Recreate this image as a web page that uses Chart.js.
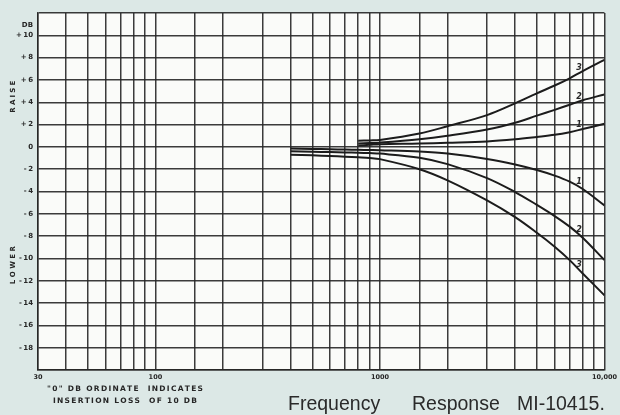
<!DOCTYPE html>
<html>
<head>
<meta charset="utf-8">
<script src="https://cdn.jsdelivr.net/npm/chart.js@4.4.1/dist/chart.umd.min.js"></script>
<style>
  html, body { margin: 0; padding: 0; background: #dce8e6; }
  canvas { display: block; }
</style>
</head>
<body>
<canvas id="chart" width="620" height="415"></canvas>
<script>
// Frequency (Hz) grid lines of the log chart paper
const gridFreqs = [30, 40, 50, 60, 70, 80, 90, 100, 150, 200, 300, 400, 500, 600, 700, 800, 900,
                   1000, 1500, 2000, 3000, 4000, 5000, 6000, 7000, 8000, 9000, 10000];
const freqLabels = { 30: '30', 100: '100', 1000: '1000', 10000: '10,000' };

// Raise (boost) curves, positions 1..3, start at 800 Hz
const raiseFreqs = [800, 900, 1000, 1500, 2000, 3000, 4000, 5000, 6000, 7000, 8000, 10000];
const raise1 = [0.12, 0.18, 0.24, 0.30, 0.37, 0.49, 0.68, 0.89, 1.08, 1.32, 1.60, 2.07];
const raise2 = [0.30, 0.34, 0.38, 0.68, 0.99, 1.55, 2.16, 2.80, 3.32, 3.78, 4.18, 4.70];
const raise3 = [0.55, 0.58, 0.62, 1.20, 1.85, 2.85, 3.90, 4.80, 5.50, 6.15, 6.80, 7.80];

// Lower (cut) curves, positions 1..3, start at 400 Hz
const lowerFreqs = [400, 500, 600, 700, 800, 900, 1000, 1500, 2000, 3000, 4000, 5000, 6000, 7000, 8000, 10000];
const lower1 = [-0.15, -0.18, -0.21, -0.24, -0.26, -0.28, -0.30, -0.42, -0.60, -1.08, -1.58, -2.08, -2.58, -3.12, -3.78, -5.25];
const lower2 = [-0.40, -0.44, -0.47, -0.50, -0.53, -0.56, -0.60, -0.98, -1.55, -2.80, -4.05, -5.20, -6.20, -7.15, -8.15, -10.15];
const lower3 = [-0.70, -0.76, -0.82, -0.88, -0.94, -1.00, -1.10, -2.00, -3.00, -4.80, -6.30, -7.70, -8.95, -10.15, -11.35, -13.30];

const curveNames = ['1', '2', '3', '1', '2', '3'];
const labelFreq = 7700;

const ink = '#262626';
const gridInk = 'rgba(38,38,38,0.9)';

function pts(freqs, vals) { return freqs.map((f, i) => ({ x: f, y: vals[i] })); }

function curve(freqs, vals, name) {
  return {
    label: name,
    data: pts(freqs, vals),
    borderColor: '#1c1c1c',
    borderWidth: 2,
    pointRadius: 0,
    fill: false,
    tension: 0.35
  };
}

const datasets = [
  curve(raiseFreqs, raise1, curveNames[0]),
  curve(raiseFreqs, raise2, curveNames[1]),
  curve(raiseFreqs, raise3, curveNames[2]),
  curve(lowerFreqs, lower1, curveNames[3]),
  curve(lowerFreqs, lower2, curveNames[4]),
  curve(lowerFreqs, lower3, curveNames[5])
];

function spaced(ctx, text, cx, y, width) {
  const chars = [...text];
  const widths = chars.map(c => ctx.measureText(c).width);
  const total = widths.reduce((a, b) => a + b, 0);
  const gap = (width - total) / (chars.length - 1);
  let x = cx - width / 2;
  ctx.textAlign = 'left';
  chars.forEach((c, i) => { ctx.fillText(c, x, y); x += widths[i] + gap; });
}

const paperPlugin = {
  id: 'paper',
  beforeDraw(chart) {
    const { ctx, chartArea: a } = chart;
    ctx.save();
    ctx.fillStyle = '#dce8e6';
    ctx.fillRect(0, 0, chart.width, chart.height);
    ctx.fillStyle = '#fafbf9';
    ctx.fillRect(a.left, a.top, a.right - a.left, a.bottom - a.top);
    ctx.restore();
  },
  afterDraw(chart) {
    const { ctx } = chart;
    const xs = chart.scales.x, ys = chart.scales.y;
    ctx.save();
    ctx.fillStyle = ink;

    // "DB" unit above the +10 tick
    ctx.font = 'bold 7px "DejaVu Sans"';
    ctx.textAlign = 'right';
    ctx.textBaseline = 'middle';
    ctx.fillText('DB', ys.right - 5, ys.getPixelForValue(10) - 10);

    // RAISE / LOWER side captions
    ctx.font = 'bold 7px "DejaVu Sans"';
    ctx.textBaseline = 'middle';
    ctx.save();
    ctx.translate(13, ys.getPixelForValue(4.5));
    ctx.rotate(-Math.PI / 2);
    spaced(ctx, 'RAISE', 0, 0, 32);
    ctx.restore();
    ctx.save();
    ctx.translate(13, ys.getPixelForValue(-10.6));
    ctx.rotate(-Math.PI / 2);
    spaced(ctx, 'LOWER', 0, 0, 38);
    ctx.restore();

    // note under the frequency axis
    ctx.font = 'bold 7.5px "DejaVu Sans"';
    ctx.textBaseline = 'middle';
    spaced(ctx, '"0" DB ORDINATE  INDICATES', 125, 389, 156);
    spaced(ctx, 'INSERTION LOSS  OF 10 DB', 125, 401, 144);

    // title
    ctx.font = '19.5px "Liberation Sans", Arial, sans-serif';
    ctx.fillStyle = '#2a2a2a';
    ctx.textAlign = 'left';
    ctx.textBaseline = 'alphabetic';
    ctx.fillText('Frequency', 288, 410);
    ctx.fillText('Response', 412, 410);
    ctx.fillText('MI-10415.', 517, 410);

    // position numbers written just above each curve
    ctx.font = 'italic bold 8px "DejaVu Sans"';
    ctx.fillStyle = ink;
    ctx.textAlign = 'center';
    ctx.textBaseline = 'bottom';
    const lx = xs.getPixelForValue(labelFreq);
    chart.data.datasets.forEach((ds) => {
      const d = ds.data;
      const k = d.findIndex(p => p.x > labelFreq);
      const p0 = d[k - 1], p1 = d[k];
      const t = (Math.log(labelFreq) - Math.log(p0.x)) / (Math.log(p1.x) - Math.log(p0.x));
      const v = p0.y + (p1.y - p0.y) * t;
      ctx.fillText(ds.label, lx, ys.getPixelForValue(v) - 1);
    });
    ctx.restore();
  }
};

new Chart(document.getElementById('chart'), {
  type: 'line',
  data: { datasets },
  plugins: [paperPlugin],
  options: {
    responsive: false,
    animation: false,
    devicePixelRatio: 1,
    layout: { autoPadding: false, padding: { top: 13, right: 14, left: 0, bottom: 0 } },
    plugins: { legend: { display: false }, tooltip: { enabled: false } },
    scales: {
      x: {
        type: 'logarithmic',
        min: 30,
        max: 10000,
        afterBuildTicks(scale) { scale.ticks = gridFreqs.map(v => ({ value: v })); },
        afterFit(scale) { scale.height = 45; },
        ticks: {
          autoSkip: false,
          maxRotation: 0,
          padding: 3,
          color: ink,
          font: { family: 'DejaVu Sans', size: 6.5, weight: 'bold' },
          callback: v => freqLabels[v] || ''
        },
        grid: { color: gridInk, lineWidth: 1.5, drawTicks: false },
        border: { color: gridInk, width: 1.5 }
      },
      y: {
        min: -20,
        max: 12,
        afterFit(scale) { scale.width = 38; },
        ticks: {
          stepSize: 2,
          padding: 5,
          color: ink,
          font: { family: 'DejaVu Sans', size: 7, weight: 'bold' },
          callback: v => (v === 12 || v === -20) ? '' : (v > 0 ? '+\u2009' + v : v === 0 ? '0' : '-\u2009' + Math.abs(v))
        },
        grid: { color: gridInk, lineWidth: 1.5, drawTicks: false },
        border: { color: gridInk, width: 1.5 }
      }
    }
  }
});
</script>
</body>
</html>
